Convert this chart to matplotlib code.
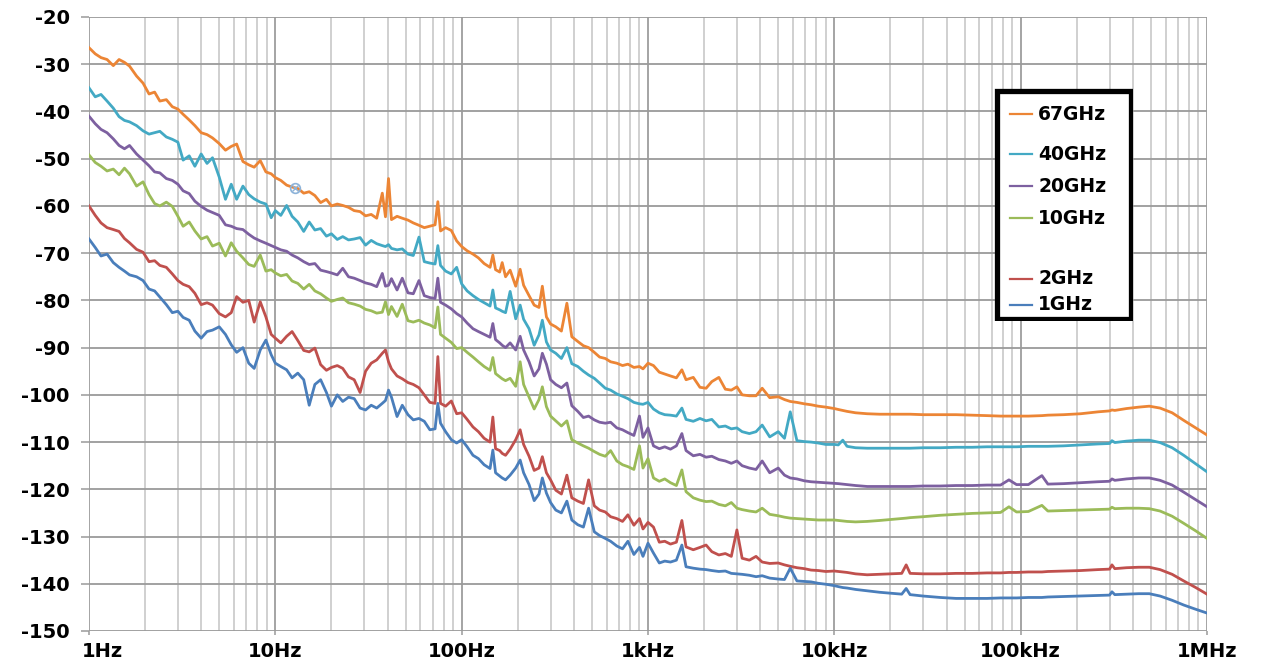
import matplotlib
matplotlib.use("Agg")
import matplotlib.pyplot as plt
from matplotlib.lines import Line2D
from matplotlib.patches import Rectangle
from matplotlib.ticker import FixedLocator, NullFormatter
from matplotlib.transforms import ScaledTranslation

# Offset frequency points, Hz
freq = [1.0, 1.08, 1.16, 1.25, 1.35, 1.45, 1.55, 1.65, 1.8, 1.95, 2.1, 2.25, 2.4, 2.6, 2.8, 3.0,
        3.2, 3.45, 3.7, 4.0, 4.3, 4.6, 5.0, 5.4, 5.8, 6.2, 6.7, 7.2, 7.7, 8.3, 8.9, 9.5,
        10, 10.7, 11.5, 12.3, 13.2, 14.2, 15.2, 16.3, 17.5, 18.8, 20, 21.5, 23, 24.7, 26.5, 28.5,
        30.5, 32.7, 35, 37.5, 39, 40.5, 42, 45, 48, 51.5, 55, 59, 63, 67.5, 72, 74.5, 77, 82, 88, 94,
        100, 107, 115, 123, 132, 142, 147, 152, 160, 165, 172, 182, 195, 206, 215, 230,
        245, 260, 271, 285, 300, 320, 343, 367, 390, 420, 450, 480, 515, 550, 590, 630,
        680, 730, 780, 840, 900, 940,
        1000, 1070, 1150, 1230, 1320, 1420, 1520, 1600, 1750, 1900, 2050, 2200, 2400, 2600, 2800, 3000,
        3200, 3500, 3800, 4100, 4500, 5000, 5400, 5800, 6300, 6900, 7500, 8200, 9000,
        10000, 10500, 11100, 11700, 13000, 15000, 17500, 20000, 23000, 24300, 25500, 30000, 37000, 45000, 55000, 66000,
        78000, 86500, 95000, 110000, 130000, 140000, 170000, 210000, 260000, 300000, 309000, 320000, 370000, 430000, 490000, 560000,
        650000, 750000, 870000, 1000000]

# Phase noise, dBc/Hz
pn_67g = [-26.5, -27.8, -28.6, -29.0, -30.3, -29.0, -29.6, -30.4, -32.5, -34.0, -36.3, -35.9, -37.8, -37.5, -39.0, -39.5,
          -40.6, -41.8, -43.0, -44.5, -44.9, -45.6, -46.8, -48.2, -47.4, -46.9, -50.6, -51.3, -51.8, -50.4, -52.8, -53.2,
          -54.0, -54.6, -55.6, -56.0, -56.3, -57.3, -57.0, -57.8, -59.3, -58.6, -60.0, -59.6, -59.9, -60.3, -61.0, -61.2,
          -62.1, -61.8, -62.6, -57.3, -62.3, -54.2, -62.9, -62.2, -62.6, -63.0, -63.6, -64.1, -64.6, -64.3, -64.0, -59.1,
          -65.3, -64.6, -65.2, -67.4,
          -68.6, -69.5, -70.2, -71.0, -72.2, -73.0, -70.4, -73.5, -74.0, -72.0, -75.0, -73.6, -77.0, -73.4, -76.8, -79.0,
          -81.0, -81.5, -77.0, -83.5, -85.0, -85.6, -86.5, -80.6, -87.7, -88.7, -89.6, -90.0, -91.0, -92.0, -92.3, -93.0,
          -93.3, -93.8, -93.5, -94.2, -94.0, -94.5,
          -93.3, -93.8, -95.2, -95.6, -96.0, -96.4, -94.7, -96.8, -96.3, -98.4, -98.6, -97.2, -96.3, -98.8, -99.0, -98.3,
          -100.0, -100.2, -100.2, -98.6, -100.6, -100.4, -101.0, -101.4, -101.6, -101.9, -102.1, -102.4, -102.6,
          -102.9, -103.1, -103.3, -103.5, -103.8, -104.0, -104.1, -104.1, -104.1, -104.1, -104.1, -104.2, -104.2, -104.2, -104.3, -104.4,
          -104.5, -104.5, -104.5, -104.5, -104.4, -104.3, -104.2, -104.0, -103.6, -103.4, -103.2, -103.3, -102.9, -102.6, -102.4, -102.8,
          -103.8, -105.4, -107.0, -108.5]

pn_40g = [-35.0, -36.9, -36.4, -37.8, -39.3, -41.1, -41.9, -42.2, -43.0, -44.1, -44.8, -44.5, -44.2, -45.4, -45.9, -46.5,
          -50.3, -49.4, -51.6, -49.0, -51.0, -49.8, -53.9, -58.6, -55.4, -58.6, -55.8, -57.6, -58.5, -59.2, -59.6, -62.5,
          -61.0, -62.0, -59.9, -62.2, -63.4, -65.4, -63.4, -65.1, -64.8, -66.4, -65.9, -67.1, -66.5, -67.2, -67.0, -66.7,
          -68.3, -67.3, -68.0, -68.4, -68.6, -68.2, -69.0, -69.3, -69.1, -70.2, -70.5, -66.6, -71.8, -72.1, -72.3, -68.4,
          -72.6, -73.8, -74.4, -73.0,
          -76.5, -78.0, -79.0, -79.8, -80.5, -81.2, -77.8, -81.6, -82.0, -82.3, -82.6, -78.1, -83.9, -81.0, -84.0, -86.0,
          -89.5, -87.3, -84.2, -88.8, -90.5, -91.2, -92.3, -90.0, -93.4, -94.0, -95.0, -95.8, -96.5, -97.5, -98.6, -99.0,
          -99.8, -100.3, -100.8, -101.6, -101.9, -102.0,
          -101.6, -103.0, -103.8, -104.2, -104.3, -104.5, -102.8, -105.2, -105.6, -105.0, -105.5, -105.2, -106.8, -106.6, -107.2, -107.0,
          -107.8, -108.2, -107.8, -106.4, -108.9, -107.8, -109.2, -103.6, -109.7, -109.9, -110.0, -110.2, -110.5,
          -110.5, -110.6, -109.6, -110.9, -111.2, -111.3, -111.3, -111.3, -111.3, -111.3, -111.3, -111.2, -111.2, -111.1, -111.1, -111.0,
          -111.0, -111.0, -111.0, -110.9, -110.9, -110.9, -110.8, -110.6, -110.4, -110.3, -109.7, -110.1, -109.8, -109.6, -109.6, -110.1,
          -111.2, -112.8, -114.6, -116.3]

pn_20g = [-41.0, -42.6, -43.8, -44.5, -45.8, -47.2, -47.9, -47.2, -49.0, -50.3, -51.5, -52.8, -53.0, -54.2, -54.6, -55.4,
          -56.8, -57.4, -59.0, -60.1, -60.9, -61.4, -62.0, -64.0, -64.3, -64.8, -65.0, -66.0, -66.8, -67.4, -67.9, -68.4,
          -68.8, -69.3, -69.6, -70.4, -71.0, -71.8, -72.4, -72.2, -73.6, -73.9, -74.2, -74.6, -73.2, -75.0, -75.3, -75.8,
          -76.3, -76.6, -77.1, -74.3, -77.0, -76.8, -75.4, -77.8, -75.3, -78.4, -78.6, -75.8, -79.0, -79.4, -79.6, -75.3,
          -80.4, -81.0, -81.8, -82.8,
          -83.5, -84.8, -86.0, -86.6, -87.2, -87.8, -84.9, -88.3, -89.0, -89.5, -90.0, -89.0, -90.5, -87.6, -90.5, -93.0,
          -96.0, -94.5, -91.2, -93.5, -96.8, -97.8, -98.5, -97.5, -102.3, -103.5, -104.8, -104.5, -105.3, -105.8, -106.0, -105.8,
          -107.0, -107.4, -108.0, -108.6, -104.5, -109.0,
          -107.0, -110.8, -111.4, -111.0, -111.5, -110.8, -108.2, -111.8, -112.9, -112.6, -113.2, -113.0, -113.7, -114.0, -114.5, -114.0,
          -115.0, -115.5, -115.8, -114.0, -116.5, -115.5, -117.0, -117.6, -117.8, -118.2, -118.4, -118.5, -118.6,
          -118.7, -118.8, -118.9, -119.0, -119.2, -119.4, -119.4, -119.4, -119.4, -119.4, -119.4, -119.3, -119.3, -119.2, -119.2, -119.1,
          -119.1, -118.0, -119.0, -119.0, -117.1, -118.9, -118.8, -118.6, -118.4, -118.3, -117.8, -118.1, -117.8, -117.6, -117.6, -118.1,
          -119.1, -120.6, -122.2, -123.7]

pn_10g = [-49.2, -50.8, -51.6, -52.6, -52.2, -53.4, -52.0, -53.2, -55.8, -54.9, -57.6, -59.5, -60.0, -59.2, -60.1, -62.2,
          -64.3, -63.4, -65.3, -67.0, -66.5, -68.5, -67.9, -70.6, -67.8, -69.6, -71.0, -72.4, -72.8, -70.4, -73.8, -73.5,
          -74.2, -74.8, -74.5, -75.9, -76.4, -77.6, -76.6, -78.0, -78.6, -79.5, -80.2, -79.8, -79.5, -80.5, -80.8, -81.2,
          -81.9, -82.2, -82.7, -82.5, -80.3, -83.0, -81.3, -83.4, -80.8, -84.3, -84.6, -84.2, -84.8, -85.2, -85.8, -81.4,
          -87.2, -88.0, -88.9, -90.2,
          -90.0, -91.0, -92.0, -93.0, -94.0, -94.8, -92.1, -95.5, -96.2, -96.6, -97.0, -96.5, -98.2, -93.0, -97.8, -100.5,
          -103.0, -101.0, -98.3, -102.5, -104.5, -105.5, -106.6, -105.5, -109.5, -110.2, -110.8, -111.3, -112.0, -112.6, -113.0, -111.8,
          -114.0, -114.8, -115.2, -115.8, -110.8, -115.5,
          -113.5, -117.6, -118.3, -117.8, -118.6, -119.2, -115.9, -120.5, -121.8, -122.3, -122.6, -122.5, -123.2, -123.5, -122.8, -124.0,
          -124.3, -124.6, -124.8, -124.0, -125.3, -125.6, -125.9, -126.1, -126.2, -126.3, -126.4, -126.5, -126.5,
          -126.5, -126.6, -126.7, -126.8, -126.9, -126.8, -126.6, -126.4, -126.2, -126.1, -126.0, -125.8, -125.5, -125.3, -125.1, -125.0,
          -124.9, -123.7, -124.8, -124.7, -123.4, -124.6, -124.5, -124.4, -124.3, -124.2, -123.8, -124.1, -124.0, -124.0, -124.1, -124.6,
          -125.7, -127.2, -128.8, -130.4]

pn_2g = [-60.0, -62.0, -63.6, -64.6, -65.0, -65.4, -66.9, -67.8, -69.2, -69.8, -71.8, -71.6, -72.6, -73.0, -74.4, -75.8,
         -76.6, -77.1, -78.5, -80.9, -80.5, -81.0, -82.8, -83.5, -82.6, -79.2, -80.4, -80.0, -84.6, -80.3, -83.5, -87.2,
         -88.0, -89.0, -87.6, -86.6, -88.5, -90.6, -90.9, -90.1, -93.6, -94.8, -94.2, -93.8, -94.4, -96.2, -96.8, -99.5,
         -95.0, -93.3, -92.6, -91.2, -90.5, -93.0, -94.5, -96.0, -96.6, -97.4, -97.8, -98.5, -100.0, -101.6, -101.8, -91.9,
         -101.8, -102.4, -101.3, -104.0,
         -103.8, -105.2, -106.8, -107.8, -109.2, -110.0, -104.7, -111.4, -111.8, -112.4, -112.8, -111.5, -109.5, -107.4, -110.5, -113.0,
         -116.0, -115.5, -113.1, -116.5, -118.0, -120.2, -121.0, -117.0, -121.8, -122.5, -123.0, -118.0, -123.5, -124.4, -124.8, -125.8,
         -126.2, -126.8, -125.4, -127.6, -126.2, -128.4,
         -127.0, -128.0, -131.2, -131.0, -131.6, -131.2, -126.6, -132.2, -132.8, -132.3, -131.8, -133.2, -133.9, -133.6, -134.2, -128.6,
         -134.6, -135.0, -134.2, -135.4, -135.7, -135.6, -136.0, -136.3, -136.6, -136.8, -137.1, -137.2, -137.4,
         -137.3, -137.4, -137.5, -137.6, -137.9, -138.1, -138.0, -137.9, -137.8, -136.0, -137.8, -137.9, -137.9, -137.8, -137.8, -137.7,
         -137.7, -137.6, -137.6, -137.5, -137.5, -137.4, -137.3, -137.2, -137.0, -136.9, -136.0, -136.8, -136.6, -136.5, -136.5, -137.0,
         -138.0, -139.4, -140.8, -142.2]

pn_1g = [-67.0, -68.8, -70.6, -70.2, -72.0, -73.0, -73.8, -74.6, -75.0, -75.8, -77.6, -78.0, -79.3, -80.9, -82.6, -82.3,
         -83.6, -84.2, -86.5, -88.0, -86.6, -86.3, -85.6, -87.2, -89.4, -91.0, -90.0, -93.3, -94.4, -90.5, -88.4, -91.5,
         -93.3, -94.0, -94.7, -96.4, -95.4, -96.8, -102.2, -97.8, -96.8, -99.5, -102.4, -100.0, -101.4, -100.5, -100.8, -102.8,
         -103.2, -102.2, -102.8, -101.8, -101.2, -99.0, -100.5, -104.6, -102.2, -104.2, -105.3, -105.0, -105.6, -107.4, -107.2, -101.8,
         -106.0, -107.8, -109.5, -110.2,
         -109.5, -111.0, -112.8, -113.5, -114.8, -115.6, -111.7, -116.5, -117.2, -117.6, -118.0, -117.0, -115.5, -113.8, -116.5, -119.0,
         -122.4, -121.0, -117.6, -120.8, -122.8, -124.4, -125.0, -122.5, -126.5, -127.5, -128.0, -124.0, -129.0, -129.8, -130.4, -131.0,
         -132.0, -132.6, -131.0, -133.8, -132.3, -134.2,
         -131.4, -133.5, -135.6, -135.2, -135.4, -135.0, -131.8, -136.4, -136.7, -136.9, -137.0, -137.2, -137.4, -137.3, -137.8, -137.9,
         -138.0, -138.2, -138.5, -138.3, -138.8, -139.0, -139.1, -136.7, -139.4, -139.5, -139.6, -139.9, -140.1,
         -140.4, -140.6, -140.8, -140.9, -141.2, -141.5, -141.8, -142.0, -142.2, -141.0, -142.3, -142.6, -142.9, -143.1, -143.1, -143.1,
         -143.0, -143.0, -143.0, -142.9, -142.9, -142.8, -142.7, -142.6, -142.5, -142.4, -141.7, -142.3, -142.2, -142.1, -142.1, -142.6,
         -143.5, -144.5, -145.4, -146.2]

labels = ["67GHz", "40GHz", "20GHz", "10GHz", "2GHz", "1GHz"]
colors = ["#ec8535", "#43a9c4", "#7d60a0", "#9bbb59", "#c0504d", "#4a7ebb"]
series = [pn_67g, pn_40g, pn_20g, pn_10g, pn_2g, pn_1g]

decade_ticks = [1, 10, 100, 1e3, 1e4, 1e5, 1e6]
decade_labels = ["1Hz", "10Hz", "100Hz", "1kHz", "10kHz", "100kHz", "1MHz"]
db_ticks = list(range(-150, -19, 10))

plt.rcParams["font.family"] = ["DejaVu Sans"]
plt.rcParams["axes.unicode_minus"] = False

W, H = 1263, 664
fig = plt.figure(figsize=(W / 100, H / 100), dpi=100)
ax = fig.add_axes([89 / W, 1 - 631 / H, (1207 - 89) / W, (631 - 17) / H])

for vals, col in zip(series, colors):
    ax.plot(freq, vals, color=col, lw=2.0, solid_joinstyle="round", zorder=3)

# small cross-circle marker sitting on the 67GHz trace
ax.plot([12.7], [-56.2], marker="o", ms=7, mfc="none", mec="#8db3d9", mew=1.2, zorder=4)
ax.plot([12.7], [-56.2], marker="x", ms=5, mec="#8db3d9", mew=1.0, zorder=4)

ax.set_xscale("log")
ax.set_xlim(1, 1e6)
ax.set_ylim(-150, -20)

ax.xaxis.set_major_locator(FixedLocator(decade_ticks))
ax.set_xticklabels(decade_labels)
minor = [m * d for d in decade_ticks[:-1] for m in range(2, 10)]
ax.xaxis.set_minor_locator(FixedLocator(minor))
ax.xaxis.set_minor_formatter(NullFormatter())
ax.set_yticks(db_ticks)

ax.grid(True, which="major", axis="x", color="#8c8c8c", lw=1.1)
ax.grid(True, which="minor", axis="x", color="#c4c4c4", lw=1.1)
ax.grid(True, which="major", axis="y", color="#9a9a9a", lw=1.3)
ax.set_axisbelow(True)

for s in ax.spines.values():
    s.set_visible(False)
ax.tick_params(axis="both", which="major", width=1.1, color="#9a9a9a",
               labelsize=14, labelcolor="black")
ax.tick_params(axis="x", which="major", length=3, pad=5)
ax.tick_params(axis="y", which="major", length=6, pad=8)
ax.tick_params(axis="x", which="minor", length=0)
for t in ax.get_xticklabels() + ax.get_yticklabels():
    t.set_fontweight("bold")
# the 1Hz label sits a little right of its tick
first = ax.get_xticklabels()[0]
first.set_transform(first.get_transform() + ScaledTranslation(13 / 100, 0, fig.dpi_scale_trans))

# legend box drawn by hand for its uneven row spacing
lx0, ly0, lw_, lh_ = 994, 88, 139, 233
lax = fig.add_axes([lx0 / W, 1 - (ly0 + lh_) / H, lw_ / W, lh_ / H])
lax.set_xlim(0, lw_)
lax.set_ylim(lh_, 0)
lax.axis("off")
lax.add_patch(Rectangle((2.5, 2.5), lw_ - 5, lh_ - 5, facecolor="white", edgecolor="black", lw=3.8))
row_y = [114, 154, 186, 218, 279, 305]
for lab, col, yy in zip(labels, colors, row_y):
    y = yy - ly0
    lax.add_line(Line2D([16, 38], [y, y], color=col, lw=1.6))
    lax.text(44, y, lab, va="center", ha="left", fontsize=13.5, fontweight="bold")

fig.savefig("out.png", dpi=100)
